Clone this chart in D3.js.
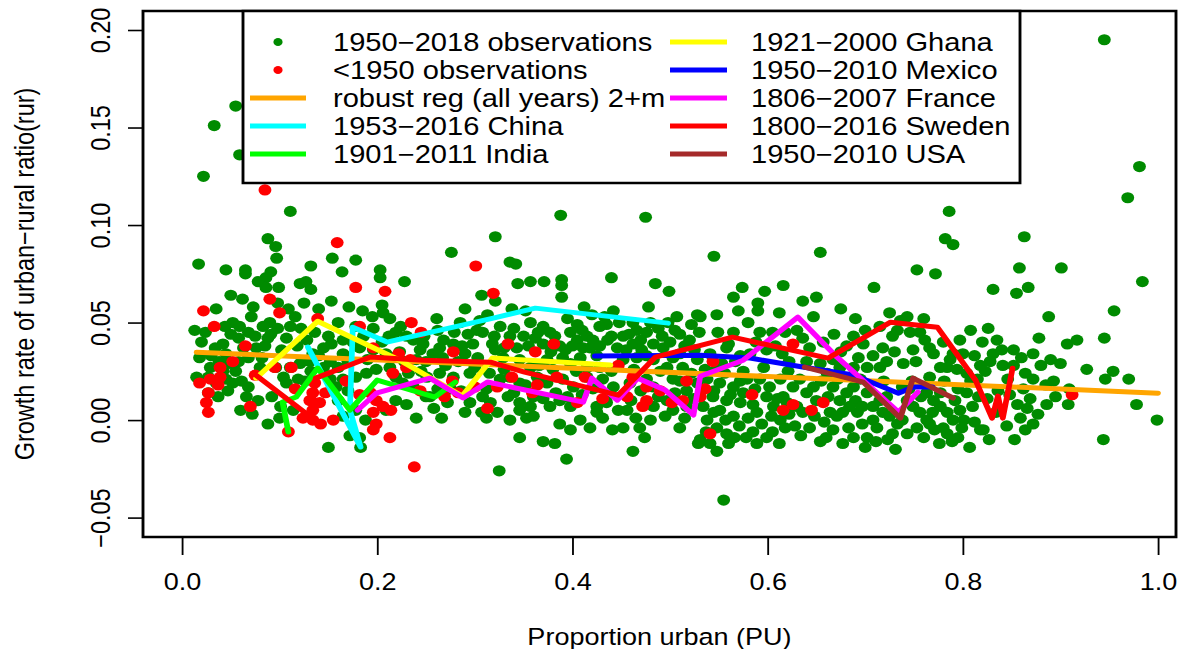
<!DOCTYPE html>
<html>
<head>
<meta charset="utf-8">
<script src="https://cdn.jsdelivr.net/npm/d3@7"></script>
<style>
  body { margin: 0; background: #fff; }
  text { font-family: "Liberation Sans", Arial, Helvetica, sans-serif; fill: #000; }
</style>
</head>
<body>
<div id="chart"></div>
<script>
// Observations 1950-2018 (proportion urban, growth rate of rur)
const greenObs = [
  [0.055,0.161],[0.033,0.151],[0.059,0.136],[0.022,0.125],
  [0.111,0.107],[0.088,0.093],[0.096,0.089],[0.097,0.083],[0.017,0.080],[0.045,0.077],[0.065,0.077],[0.065,0.075],[0.091,0.076],[0.086,0.073],[0.078,0.071],[0.086,0.068],[0.099,0.068],[0.121,0.070],[0.127,0.071],[0.132,0.067],[0.132,0.079],[0.154,0.083],[0.164,0.076],[0.178,0.082],[0.203,0.077],[0.203,0.073],[0.228,0.071],[0.153,0.061],[0.171,0.058],[0.205,0.059],[0.206,0.055],[0.213,0.052],[0.073,0.058],[0.071,0.053],[0.109,0.057],[0.116,0.053],[0.111,0.048],[0.090,0.050],[0.083,0.048],[0.091,0.044],[0.107,0.042],[0.052,0.050],[0.044,0.048],[0.059,0.048],[0.050,0.044],[0.042,0.039],[0.024,0.045],[0.075,0.043],[0.076,0.037],[0.085,0.038],[0.063,0.037],[0.045,0.034],[0.034,0.037],[0.136,0.045],[0.150,0.043],[0.153,0.039],[0.145,0.037],[0.134,0.034],[0.165,0.041],[0.178,0.048],[0.196,0.047],[0.219,0.045],[0.224,0.048],[0.230,0.043],[0.237,0.041],[0.244,0.036],[0.165,0.034],[0.182,0.037],[0.196,0.036],[0.209,0.034],[0.223,0.035],[0.018,0.032],[0.029,0.027],[0.042,0.025],[0.055,0.025],[0.045,0.021],[0.052,0.019],[0.035,0.019],[0.027,0.022],[0.027,0.014],[0.037,0.012],[0.047,0.015],[0.066,0.012],[0.078,0.010],[0.088,-0.002],[0.068,0.017],[0.080,0.027],[0.096,0.027],[0.104,0.022],[0.111,0.027],[0.121,0.029],[0.131,0.030],[0.145,0.027],[0.152,0.030],[0.107,0.019],[0.119,0.021],[0.100,0.001],[0.101,0.007],[0.114,0.005],[0.150,-0.014],[0.172,-0.008],[0.182,-0.009],[0.183,-0.014],[0.152,0.021],[0.158,0.017],[0.165,0.021],[0.178,0.022],[0.189,0.024],[0.199,0.026],[0.213,0.027],[0.219,0.022],[0.226,0.019],[0.237,0.017],[0.240,0.001],[0.219,0.010],[0.209,0.005],[0.178,0.005],[0.188,0.000],[0.165,0.002],
  [0.020,0.040],[0.030,0.033],[0.038,0.030],[0.048,0.029],[0.058,0.030],[0.061,0.020],[0.058,0.042],[0.068,0.045],[0.068,0.032],[0.082,0.032],[0.088,0.042],[0.098,0.047],[0.102,0.036],[0.118,0.038],[0.122,0.047],[0.128,0.041],[0.140,0.033],[0.126,0.020],[0.132,0.025],[0.160,0.027],[0.170,0.030],[0.175,0.040],[0.186,0.043],[0.190,0.031],[0.205,0.040],[0.212,0.043],[0.215,0.032],[0.228,0.030],[0.232,0.024],[0.245,0.025],[0.240,0.031],[0.248,0.043],[0.195,0.053],[0.185,0.056],[0.160,0.050],[0.140,0.057],[0.125,0.060],[0.098,0.060],[0.062,0.062],[0.050,0.064],[0.035,0.057],[0.013,0.046],[0.015,0.022],[0.060,0.005],[0.072,0.003],[0.092,0.012],[0.160,0.010],[0.170,0.015],[0.230,0.008],[0.250,0.012],
  [0.388,0.105],[0.475,0.104],[0.321,0.094],[0.276,0.086],[0.336,0.081],[0.342,0.080],[0.344,0.070],[0.357,0.071],[0.371,0.071],[0.389,0.072],[0.389,0.069],[0.440,0.073],[0.485,0.070],[0.499,0.066],[0.307,0.064],[0.321,0.061],[0.389,0.063],[0.338,0.057],[0.412,0.058],[0.442,0.056],[0.478,0.058],[0.261,0.052],[0.285,0.050],[0.313,0.054],[0.305,0.051],[0.357,0.050],[0.370,0.048],[0.377,0.045],[0.398,0.045],[0.433,0.053],[0.435,0.049],[0.428,0.048],[0.462,0.050],[0.466,0.046],[0.476,0.045],[0.507,0.053],[0.510,0.044],[0.528,0.054],[0.247,0.039],[0.264,0.037],[0.278,0.039],[0.293,0.044],[0.298,0.039],[0.308,0.045],[0.318,0.039],[0.321,0.036],[0.336,0.043],[0.343,0.037],[0.362,0.042],[0.370,0.039],[0.387,0.038],[0.405,0.041],[0.411,0.037],[0.415,0.043],[0.418,0.037],[0.421,0.041],[0.446,0.037],[0.452,0.043],[0.462,0.039],[0.471,0.036],[0.483,0.039],[0.493,0.037],[0.510,0.034],[0.520,0.041],[0.257,0.034],[0.267,0.032],[0.290,0.034],[0.303,0.032],[0.329,0.032],[0.346,0.031],[0.357,0.027],[0.374,0.031],[0.390,0.032],[0.398,0.029],[0.408,0.032],[0.415,0.027],[0.428,0.027],[0.452,0.031],[0.466,0.032],[0.483,0.031],[0.497,0.027],[0.513,0.027],[0.528,0.031],[0.251,0.022],[0.264,0.024],[0.278,0.022],[0.295,0.024],[0.326,0.021],[0.336,0.022],[0.346,0.019],[0.364,0.022],[0.374,0.019],[0.390,0.021],[0.401,0.017],[0.415,0.022],[0.431,0.021],[0.442,0.017],[0.459,0.019],[0.476,0.021],[0.483,0.017],[0.503,0.021],[0.517,0.015],[0.528,0.019],[0.254,0.012],[0.272,0.009],[0.295,0.009],[0.308,0.012],[0.316,0.009],[0.334,0.012],[0.346,0.009],[0.357,0.007],[0.370,0.011],[0.377,0.007],[0.387,0.010],[0.398,0.007],[0.425,0.007],[0.435,0.009],[0.456,0.005],[0.483,0.007],[0.497,0.010],[0.503,0.005],[0.517,0.007],[0.266,0.001],[0.307,0.004],[0.323,0.004],[0.336,0.000],[0.346,0.005],[0.353,0.001],[0.387,-0.002],[0.398,-0.005],[0.408,0.000],[0.425,0.004],[0.431,0.001],[0.441,-0.005],[0.452,-0.004],[0.469,-0.004],[0.480,0.000],[0.510,-0.004],[0.346,-0.009],[0.370,-0.011],[0.382,-0.012],[0.394,-0.020],[0.325,-0.026],[0.462,-0.016],[0.474,-0.009],[0.529,-0.012],
  [0.250,0.030],[0.262,0.016],[0.270,0.028],[0.283,0.030],[0.286,0.015],[0.300,0.027],[0.312,0.016],[0.315,0.024],[0.330,0.026],[0.340,0.014],[0.352,0.018],[0.360,0.012],[0.366,0.028],[0.380,0.026],[0.383,0.014],[0.395,0.012],[0.404,0.025],[0.410,0.013],[0.421,0.016],[0.437,0.013],[0.440,0.025],[0.447,0.005],[0.460,0.010],[0.463,0.026],[0.470,0.015],[0.488,0.012],[0.490,0.025],[0.505,0.014],[0.510,0.020],[0.522,0.024],[0.524,0.011],[0.515,0.001],[0.495,0.002],[0.465,0.001],[0.418,-0.004],[0.360,0.002],[0.312,0.001],[0.290,0.004],[0.275,0.016],[0.258,0.006],[0.320,0.043],[0.330,0.037],[0.350,0.043],[0.382,0.043],[0.393,0.036],[0.428,0.038],[0.440,0.043],[0.455,0.036],[0.476,0.033],[0.500,0.040],[0.503,0.032],[0.525,0.036],[0.530,0.045],[0.395,0.052],[0.405,0.049],[0.420,0.054],[0.448,0.050],[0.488,0.047],[0.498,0.050],[0.352,0.056],[0.290,0.057],[0.279,0.045],[0.262,0.046],
  [0.268,0.041],[0.287,0.038],[0.302,0.046],[0.326,0.048],[0.340,0.047],[0.355,0.038],[0.365,0.045],[0.378,0.035],[0.400,0.038],[0.410,0.046],[0.425,0.033],[0.436,0.041],[0.458,0.044],[0.470,0.041],[0.480,0.050],[0.492,0.043],[0.505,0.046],[0.515,0.038],[0.522,0.049],
  [0.786,0.107],[0.782,0.093],[0.790,0.090],[0.545,0.084],[0.654,0.086],[0.753,0.077],[0.772,0.075],[0.709,0.068],[0.574,0.068],[0.565,0.063],[0.570,0.056],[0.590,0.060],[0.590,0.056],[0.597,0.066],[0.616,0.069],[0.636,0.061],[0.650,0.063],[0.647,0.053],[0.531,0.053],[0.549,0.045],[0.565,0.045],[0.592,0.045],[0.605,0.045],[0.618,0.045],[0.630,0.046],[0.636,0.042],[0.643,0.037],[0.558,0.037],[0.541,0.034],[0.582,0.034],[0.599,0.036],[0.615,0.034],[0.681,0.038],[0.688,0.043],[0.698,0.039],[0.708,0.033],[0.718,0.037],[0.715,0.048],[0.728,0.043],[0.736,0.051],[0.743,0.053],[0.733,0.046],[0.746,0.045],[0.756,0.045],[0.761,0.041],[0.766,0.037],[0.749,0.036],[0.739,0.029],[0.715,0.027],[0.702,0.027],[0.688,0.027],[0.674,0.027],[0.667,0.031],[0.654,0.029],[0.661,0.024],[0.790,0.034],[0.800,0.034],[0.784,0.027],[0.794,0.026],[0.804,0.024],[0.815,0.021],[0.777,0.027],[0.787,0.031],[0.804,0.014],[0.810,0.007],[0.538,0.021],[0.551,0.019],[0.565,0.017],[0.579,0.021],[0.544,0.012],[0.558,0.010],[0.572,0.009],[0.551,0.005],[0.565,0.002],[0.538,0.000],[0.548,-0.004],[0.558,-0.007],[0.541,-0.012],[0.531,-0.010],[0.534,0.007],[0.589,0.004],[0.599,0.012],[0.602,0.017],[0.592,0.021],[0.613,0.021],[0.606,0.007],[0.616,0.012],[0.626,0.017],[0.633,0.021],[0.640,0.014],[0.647,0.017],[0.630,0.007],[0.636,0.004],[0.613,0.000],[0.618,-0.004],[0.599,-0.009],[0.643,-0.004],[0.654,-0.011],[0.677,-0.012],[0.667,-0.005],[0.664,0.004],[0.674,0.010],[0.681,0.014],[0.688,0.017],[0.667,0.017],[0.677,0.004],[0.692,0.004],[0.702,0.014],[0.708,0.007],[0.708,0.000],[0.718,0.004],[0.728,-0.007],[0.731,-0.015],[0.702,-0.009],[0.715,0.010],[0.743,0.010],[0.749,0.007],[0.756,0.004],[0.763,0.000],[0.753,-0.004],[0.743,-0.007],[0.769,0.004],[0.777,0.007],[0.784,0.004],[0.790,0.000],[0.784,-0.007],[0.795,-0.009],[0.807,-0.014],[0.797,0.005],[0.763,0.014],[0.777,0.014],[0.818,-0.005],[0.555,-0.041],
  [0.536,0.026],[0.545,0.015],[0.556,0.024],[0.562,0.013],[0.575,0.014],[0.585,0.008],[0.580,0.001],[0.571,-0.003],[0.560,-0.012],[0.548,-0.016],[0.537,-0.006],[0.545,0.004],[0.557,0.000],[0.594,-0.002],[0.605,-0.006],[0.610,0.011],[0.622,0.003],[0.628,-0.003],[0.621,0.025],[0.596,0.027],[0.587,0.016],[0.575,0.025],[0.567,0.030],[0.553,0.029],[0.612,-0.012],[0.589,-0.012],[0.578,-0.009],[0.566,-0.009],
  [0.662,0.012],[0.671,0.002],[0.683,-0.004],[0.690,0.010],[0.697,-0.002],[0.712,-0.004],[0.722,0.012],[0.719,0.020],[0.695,0.021],[0.684,0.007],[0.658,-0.001],[0.650,0.010],[0.655,0.020],[0.672,0.021],[0.700,-0.014],[0.688,-0.009],[0.711,-0.011],[0.725,0.002],
  [0.738,0.017],[0.748,0.020],[0.757,0.012],[0.770,0.010],[0.781,0.020],[0.792,0.010],[0.801,0.000],[0.799,-0.004],[0.771,-0.005],[0.760,-0.009],[0.738,0.000],[0.733,-0.002],[0.776,-0.012],[0.789,-0.011],[0.812,-0.001],[0.816,0.012],[0.808,0.020],[0.766,0.022],
  [0.620,0.009],[0.634,-0.008],[0.648,0.002],[0.660,-0.009],[0.697,0.007],[0.723,-0.010],[0.745,0.016],[0.766,-0.002],[0.780,-0.004],[0.795,0.016],[0.604,0.002],[0.585,-0.006],[0.572,0.020],
  [0.548,0.026],[0.560,0.039],[0.572,0.033],[0.588,0.040],[0.608,0.038],[0.622,0.030],[0.640,0.030],[0.657,0.040],[0.668,0.044],[0.675,0.035],[0.693,0.032],[0.700,0.046],[0.722,0.030],[0.730,0.035],[0.752,0.030],[0.770,0.034],[0.780,0.040],[0.797,0.041],[0.808,0.046],[0.760,0.052],[0.725,0.055],[0.690,0.052],[0.675,0.057],[0.612,0.055],[0.580,0.050],[0.548,0.054],
  [0.945,0.195],[0.981,0.130],[0.969,0.114],[0.863,0.094],[0.858,0.078],[0.901,0.078],[0.831,0.067],[0.855,0.065],[0.867,0.068],[0.984,0.071],[0.888,0.053],[0.955,0.056],[0.835,0.041],[0.878,0.042],[0.852,0.036],[0.872,0.034],[0.907,0.039],[0.917,0.041],[0.945,0.042],[0.831,0.034],[0.828,0.030],[0.841,0.028],[0.823,0.025],[0.864,0.024],[0.900,0.029],[0.927,0.026],[0.954,0.025],[0.946,0.021],[0.970,0.021],[0.872,0.021],[0.893,0.020],[0.909,0.016],[0.895,0.012],[0.886,0.008],[0.908,0.008],[0.862,0.016],[0.869,0.011],[0.856,0.008],[0.866,0.006],[0.877,0.003],[0.859,0.001],[0.864,-0.005],[0.853,-0.010],[0.821,-0.005],[0.978,0.008],[0.999,0.000],[0.944,-0.010],[0.848,0.013],
  [0.820,0.040],[0.826,0.047],[0.812,0.033],[0.840,0.036],[0.846,0.021],[0.836,0.015],[0.825,0.011],[0.818,0.028],[0.852,0.028],[0.860,0.032],[0.880,0.028],[0.885,0.018],[0.890,0.031],[0.834,0.004],[0.845,-0.003],[0.827,-0.010],[0.872,-0.002]
];

// Observations before 1950
const redObs = [
  [0.085,0.118],[0.159,0.091],[0.090,0.062],[0.178,0.068],[0.208,0.066],[0.022,0.056],[0.100,0.055],[0.139,0.052],[0.235,0.050],[0.182,0.048],[0.033,0.048],[0.065,0.038],[0.245,0.045],[0.196,0.037],[0.234,0.031],[0.222,0.034],[0.018,0.019],[0.029,0.021],[0.039,0.022],[0.037,0.018],[0.027,0.014],[0.025,0.009],[0.027,0.004],[0.039,0.027],[0.052,0.030],[0.070,0.007],[0.075,0.023],[0.112,0.027],[0.095,0.027],[0.109,-0.006],[0.124,0.001],[0.134,0.000],[0.142,-0.002],[0.155,0.000],[0.134,0.005],[0.141,0.009],[0.147,0.014],[0.134,0.014],[0.131,0.010],[0.136,0.019],[0.116,0.016],[0.182,0.013],[0.193,0.014],[0.199,0.010],[0.206,0.007],[0.214,0.005],[0.196,0.004],[0.199,-0.002],[0.196,-0.005],[0.213,-0.009],[0.168,0.020],[0.216,0.024],[0.230,0.027],[0.238,-0.024],
  [0.301,0.079],[0.319,0.065],[0.334,0.039],[0.362,0.035],[0.381,0.039],[0.278,0.035],[0.447,0.028],[0.277,0.020],[0.300,0.017],[0.338,0.022],[0.364,0.018],[0.384,0.022],[0.413,0.022],[0.462,0.022],[0.476,0.017],[0.490,0.015],[0.517,0.020],[0.244,0.015],[0.269,0.012],[0.283,0.014],[0.323,0.017],[0.359,0.014],[0.405,0.009],[0.431,0.011],[0.456,0.012],[0.476,0.010],[0.472,0.007],[0.502,0.009],[0.513,0.010],[0.313,0.006],
  [0.531,0.012],[0.536,0.016],[0.544,0.030],[0.541,-0.007],[0.584,0.013],[0.616,0.005],[0.626,0.008],[0.645,0.005],[0.657,0.009],[0.626,0.039],[0.912,0.013]
];

// Robust regression (all years), end points
const robustReg = [[0.015,0.0348],[1.0,0.0138]];

// Country trajectories
const china  = [[0.129,0.0374],[0.183,-0.0138],[0.172,0.0051],[0.175,0.0476],[0.210,0.0400],[0.319,0.0523],[0.362,0.0574],[0.498,0.0497]];
const india  = [[0.109,-0.0061],[0.103,0.0092],[0.117,0.0118],[0.139,0.0266],[0.172,0.0051],[0.200,0.0205],[0.259,0.0118],[0.280,0.0195]];
const ghana  = [[0.076,0.0215],[0.139,0.0507],[0.223,0.0307],[0.287,0.0123],[0.318,0.0318],[0.439,0.0282]];
const mexico = [[0.423,0.0328],[0.531,0.0333],[0.582,0.0318],[0.636,0.0272],[0.688,0.0231],[0.734,0.0138],[0.749,0.0169],[0.769,0.0169]];
const france = [[0.180,0.0051],[0.199,0.0138],[0.254,0.0215],[0.288,0.0113],[0.313,0.0195],[0.411,0.0092],[0.420,0.0215],[0.446,0.0102],[0.467,0.0215],[0.495,0.0154],[0.524,0.0026],[0.531,0.0225],[0.575,0.0307],[0.631,0.0528],[0.671,0.0323],[0.734,0.0041],[0.754,0.0143]];
const sweden = [[0.073,0.0241],[0.132,0.0015],[0.137,0.0215],[0.193,0.0323],[0.247,0.0307],[0.316,0.0297],[0.351,0.0246],[0.447,0.0128],[0.485,0.0323],[0.564,0.0425],[0.662,0.0318],[0.726,0.0502],[0.774,0.0476],[0.813,0.0205],[0.830,0.0010],[0.836,0.0123],[0.841,0.0010],[0.851,0.0266]];
const usa    = [[0.638,0.0272],[0.698,0.0195],[0.736,0.0010],[0.749,0.0215],[0.790,0.0113]];

const xTicks = [0, 0.2, 0.4, 0.6, 0.8, 1.0];
const yTicks = [-0.05, 0, 0.05, 0.10, 0.15, 0.20];

const series = [
  { label: "robust reg (all years) 2+m", data: robustReg, color: "#FFA500" },
  { label: "1953\u22122016 China",  data: china,  color: "#00FFFF" },
  { label: "1901\u22122011 India",  data: india,  color: "#00FF00" },
  { label: "1921\u22122000 Ghana",  data: ghana,  color: "#FFFF00" },
  { label: "1950\u22122010 Mexico", data: mexico, color: "#0000FF" },
  { label: "1806\u22122007 France", data: france, color: "#FF00FF" },
  { label: "1800\u22122016 Sweden", data: sweden, color: "#FF0000" },
  { label: "1950\u22122010 USA",    data: usa,    color: "#A52A2A" }
];

const width = 1187, height = 649;
const sx = 1.15;  // the source picture is stretched horizontally
const box = { left: 143, right: 1176, top: 11, bottom: 537 };
const fontSize = 23.5;

const svg = d3.select("#chart")
    .append("svg")
    .attr("width", width)
    .attr("height", height);

const g = svg.append("g").attr("transform", `scale(${sx},1)`);

const xScale = d3.scaleLinear().domain([0, 1]).range([182 / sx, 1158 / sx]);
const yScale = d3.scaleLinear().domain([-0.05, 0.20]).range([517.6, 30]);

// Points
g.append("g").selectAll("circle")
    .data(greenObs)
    .enter()
    .append("circle")
    .attr("cx", d => xScale(d[0]))
    .attr("cy", d => yScale(d[1]))
    .attr("r", 5.6)
    .style("fill", "#008B00");

g.append("g").selectAll("circle")
    .data(redObs)
    .enter()
    .append("circle")
    .attr("cx", d => xScale(d[0]))
    .attr("cy", d => yScale(d[1]))
    .attr("r", 5.6)
    .style("fill", "#FF0000");

// Lines
const line = d3.line()
    .x(d => xScale(d[0]))
    .y(d => yScale(d[1]));

series.forEach(s => {
    g.append("path")
        .datum(s.data)
        .attr("d", line)
        .style("fill", "none")
        .style("stroke", s.color)
        .style("stroke-width", 5)
        .style("stroke-linejoin", "round")
        .style("stroke-linecap", "round");
});

// Frame
g.append("rect")
    .attr("x", box.left / sx)
    .attr("y", box.top)
    .attr("width", (box.right - box.left) / sx)
    .attr("height", box.bottom - box.top)
    .style("fill", "none")
    .style("stroke", "#000")
    .style("stroke-width", 2.5);

// X axis
const xAxis = g.append("g")
    .attr("transform", `translate(0,${box.bottom})`)
    .call(d3.axisBottom(xScale).tickValues(xTicks).tickFormat(d3.format(".1f")).tickSize(18));
xAxis.select(".domain").remove();
xAxis.selectAll("line").style("stroke", "#000").style("stroke-width", 1.6);
xAxis.selectAll("text")
    .attr("y", 53)
    .attr("dy", 0)
    .style("font-size", fontSize + "px")
    .style("font-family", "'Liberation Sans', Arial, sans-serif");

// Y axis
const yAxis = g.append("g")
    .attr("transform", `translate(${box.left / sx},0)`)
    .call(d3.axisLeft(yScale).tickValues(yTicks).tickFormat(d3.format(".2f")).tickSize(15 / sx));
yAxis.select(".domain").remove();
yAxis.selectAll("line").style("stroke", "#000").style("stroke-width", 1.6);
yAxis.selectAll("text")
    .attr("x", 0)
    .attr("dy", 0)
    .attr("text-anchor", "middle")
    .attr("transform", `translate(${(110 - box.left) / sx},0) rotate(-90)`)
    .style("font-size", fontSize + "px")
    .style("font-family", "'Liberation Sans', Arial, sans-serif");

// Axis titles
g.append("text")
    .attr("x", (box.left + box.right) / 2 / sx)
    .attr("y", 645)
    .attr("text-anchor", "middle")
    .style("font-size", fontSize + "px")
    .text("Proportion urban (PU)");

g.append("text")
    .attr("transform", `translate(${34 / sx},${(box.top + box.bottom) / 2}) rotate(-90)`)
    .attr("text-anchor", "middle")
    .style("font-size", fontSize + "px")
    .text("Growth rate of urban\u2212rural ratio(rur)");

// Legend
const legend = { left: 243, right: 1020, top: 11, bottom: 183 };
const rowY = [42, 70, 98, 126, 154];
const legendCol1 = [
  { label: "1950\u22122018 observations", dot: "#008B00" },
  { label: "<1950 observations", dot: "#FF0000" },
  series[0], series[1], series[2]
];
const legendCol2 = series.slice(3);

g.append("rect")
    .attr("x", legend.left / sx)
    .attr("y", legend.top)
    .attr("width", (legend.right - legend.left) / sx)
    .attr("height", legend.bottom - legend.top)
    .style("fill", "#fff")
    .style("stroke", "#000")
    .style("stroke-width", 2.5);

function drawLegendColumn(items, lineX0, lineX1, textX) {
    items.forEach((item, i) => {
        const cy = rowY[i];
        if (item.dot) {
            g.append("circle")
                .attr("cx", (lineX0 + lineX1) / 2 / sx)
                .attr("cy", cy)
                .attr("r", 4)
                .style("fill", item.dot);
        } else {
            g.append("line")
                .attr("x1", lineX0 / sx).attr("x2", lineX1 / sx)
                .attr("y1", cy).attr("y2", cy)
                .style("stroke", item.color)
                .style("stroke-width", 5);
        }
        g.append("text")
            .attr("x", textX / sx)
            .attr("y", cy + 9)
            .style("font-size", "25.3px")
            .text(item.label);
    });
}
drawLegendColumn(legendCol1, 250, 306, 333);
drawLegendColumn(legendCol2, 670, 727, 751);
</script>
</body>
</html>
